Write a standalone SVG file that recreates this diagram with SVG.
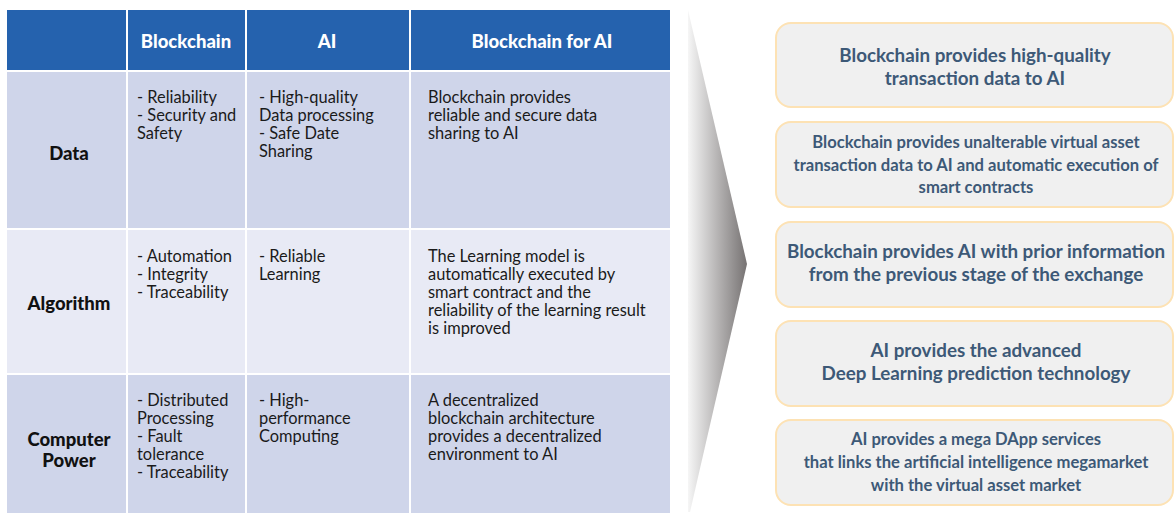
<svg xmlns="http://www.w3.org/2000/svg" width="1174" height="513" viewBox="0 0 1174 513">
<defs>
<linearGradient id="arrowGrad" x1="0" y1="0" x2="1" y2="0">
<stop offset="0" stop-color="#f6f6f6"/>
<stop offset="1" stop-color="#767272"/>
</linearGradient>
</defs>
<style>
.hdr{fill:#2562ae}
.r1{fill:#cfd5ea}
.r2{fill:#e8eaf5}
.grid{stroke:#ffffff;stroke-width:2;fill:none}
.ht{font-family:Lato,"Liberation Sans",sans-serif;font-weight:900;font-size:18.5px;fill:#ffffff;text-anchor:middle}
.rl{font-family:Lato,"Liberation Sans",sans-serif;font-weight:900;font-size:18.5px;fill:#111111;text-anchor:middle}
.ct{font-family:Lato,"Liberation Sans",sans-serif;font-size:16.4px;fill:#1a1a1a}
.box{fill:#f0f0f0;stroke:#fde2b4;stroke-width:2}
.bt{font-family:Lato,"Liberation Sans",sans-serif;font-weight:bold;fill:#3d5977;text-anchor:middle}
.big{font-size:18.8px}
.small{font-size:16.6px}
</style>
<g id="table">
<rect class="hdr" x="7" y="10" width="663" height="61"/>
<rect class="r1" x="7" y="71" width="663" height="158"/>
<rect class="r2" x="7" y="229" width="663" height="145"/>
<rect class="r1" x="7" y="374" width="663" height="139"/>
<g class="grid">
<line x1="127" y1="10" x2="127" y2="513"/>
<line x1="246" y1="10" x2="246" y2="513"/>
<line x1="410" y1="10" x2="410" y2="513"/>
<line x1="7" y1="71" x2="670" y2="71"/>
<line x1="7" y1="229" x2="670" y2="229"/>
<line x1="7" y1="374" x2="670" y2="374"/>
</g>
<g id="header">
<text class="ht" x="186" y="48">Blockchain</text>
<text class="ht" x="327" y="48">AI</text>
<text class="ht" x="542" y="48">Blockchain for AI</text>
</g>
<g id="row-data">
<text class="rl" x="69" y="160">Data</text>
<text class="ct" x="137"><tspan x="137" y="103">- Reliability</tspan><tspan x="137" y="121">- Security and</tspan><tspan x="137" y="139">Safety</tspan></text>
<text class="ct"><tspan x="259" y="103">- High-quality</tspan><tspan x="259" y="121">Data processing</tspan><tspan x="259" y="139">- Safe Date</tspan><tspan x="259" y="157">Sharing</tspan></text>
<text class="ct"><tspan x="428" y="103">Blockchain provides</tspan><tspan x="428" y="121">reliable and secure data</tspan><tspan x="428" y="139">sharing to AI</tspan></text>
</g>
<g id="row-algorithm">
<text class="rl" x="69" y="310">Algorithm</text>
<text class="ct"><tspan x="137" y="262">- Automation</tspan><tspan x="137" y="280">- Integrity</tspan><tspan x="137" y="298">- Traceability</tspan></text>
<text class="ct"><tspan x="259" y="262">- Reliable</tspan><tspan x="259" y="280">Learning</tspan></text>
<text class="ct"><tspan x="428" y="262">The Learning model is</tspan><tspan x="428" y="280">automatically executed by</tspan><tspan x="428" y="298">smart contract and the</tspan><tspan x="428" y="316">reliability of the learning result</tspan><tspan x="428" y="334">is improved</tspan></text>
</g>
<g id="row-computer-power">
<text class="rl"><tspan x="69" y="446">Computer</tspan><tspan x="69" y="467">Power</tspan></text>
<text class="ct"><tspan x="137" y="406">- Distributed</tspan><tspan x="137" y="424">Processing</tspan><tspan x="137" y="442">- Fault</tspan><tspan x="137" y="460">tolerance</tspan><tspan x="137" y="478">- Traceability</tspan></text>
<text class="ct"><tspan x="259" y="406">- High-</tspan><tspan x="259" y="424">performance</tspan><tspan x="259" y="442">Computing</tspan></text>
<text class="ct"><tspan x="428" y="406">A decentralized</tspan><tspan x="428" y="424">blockchain architecture</tspan><tspan x="428" y="442">provides a decentralized</tspan><tspan x="428" y="460">environment to AI</tspan></text>
</g>
</g>
<g id="connectors">
<polygon points="688,10 747,264 690,512 688,512" fill="url(#arrowGrad)"/>
</g>
<g id="box1">
<rect class="box" x="776" y="23" width="397" height="84" rx="15"/>
<text class="bt big"><tspan x="975" y="62">Blockchain provides high-quality</tspan><tspan x="975" y="85">transaction data to AI</tspan></text>
</g>
<g id="box2">
<rect class="box" x="776" y="122" width="397" height="85" rx="15"/>
<text class="bt small"><tspan x="976" y="148">Blockchain provides unalterable virtual asset</tspan><tspan x="976" y="171">transaction data to AI and automatic execution of</tspan><tspan x="976" y="193">smart contracts</tspan></text>
</g>
<g id="box3">
<rect class="box" x="776" y="222" width="397" height="85" rx="15"/>
<text class="bt big"><tspan x="976" y="258">Blockchain provides AI with prior information</tspan><tspan x="976" y="281">from the previous stage of the exchange</tspan></text>
</g>
<g id="box4">
<rect class="box" x="776" y="321" width="397" height="85" rx="15"/>
<text class="bt big"><tspan x="976" y="357">AI provides the advanced</tspan><tspan x="976" y="380">Deep Learning prediction technology</tspan></text>
</g>
<g id="box5">
<rect class="box" x="776" y="420" width="397" height="85" rx="15"/>
<text class="bt small"><tspan x="976" y="445">AI provides a mega DApp services</tspan><tspan x="976" y="468">that links the artificial intelligence megamarket</tspan><tspan x="976" y="491">with the virtual asset market</tspan></text>
</g>
</svg>
